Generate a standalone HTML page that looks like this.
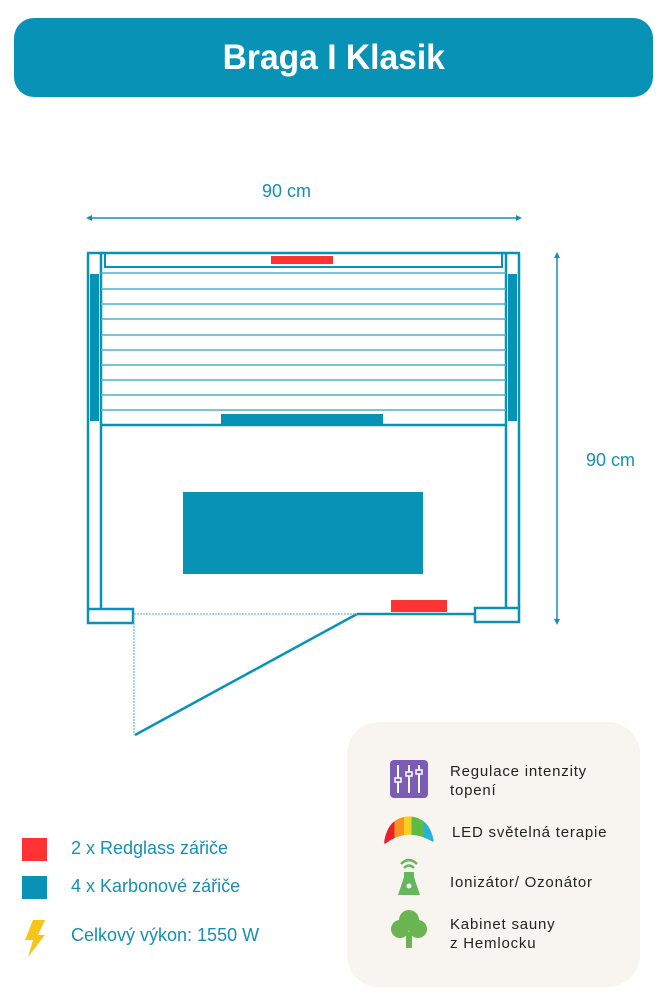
<!DOCTYPE html>
<html><head><meta charset="utf-8"><style>
body{margin:0;width:666px;height:1000px;background:#fff;font-family:"Liberation Sans",sans-serif;position:relative;overflow:hidden}
.hdr{position:absolute;left:14px;top:18px;width:639px;height:79px;background:#0893b6;border-radius:20px;color:#fff;font-weight:bold;font-size:35px;text-align:center;line-height:79px}
.hdr span{display:inline-block;transform:scaleX(0.96)}
.t{position:absolute;color:#168fb2;font-size:18px}
.f{position:absolute;font-size:15px;color:#222;letter-spacing:0.8px;line-height:19px}
</style></head><body>
<div class="hdr"><span>Braga I Klasik</span></div>
<div class="t" style="left:262px;top:181px">90 cm</div>
<div class="t" style="left:586px;top:450px">90 cm</div>
<svg width="666" height="1000" style="position:absolute;left:0;top:0" fill="none">
<g stroke="#168fb2" stroke-width="1.5">
<line x1="89" y1="218" x2="519" y2="218"/>
<line x1="557" y1="255" x2="557" y2="622"/>
</g>
<g fill="#168fb2">
<polygon points="86,218 92,215 92,221"/><polygon points="522,218 516,215 516,221"/>
<polygon points="557,252 554,258 560,258"/><polygon points="557,625 554,619 560,619"/>
</g>
<g stroke="#0893b6" stroke-width="2.5">
<line x1="87" y1="253" x2="520" y2="253"/>
<line x1="88" y1="253" x2="88" y2="608"/>
<line x1="101" y1="253" x2="101" y2="608"/>
<line x1="506" y1="253" x2="506" y2="608"/>
<line x1="519" y1="253" x2="519" y2="608"/>
<rect x="105" y="253" width="397" height="14" stroke-width="2"/>
<line x1="101" y1="425" x2="506" y2="425"/>
<rect x="88" y="609" width="45" height="14"/>
<rect x="475" y="608" width="44" height="14"/>
<line x1="357" y1="614" x2="475" y2="614"/>
<line x1="135" y1="735" x2="357" y2="614"/>
</g>
<g stroke="#4fb0cc" stroke-width="1.5">
<line x1="101" y1="273" x2="506" y2="273"/><line x1="101" y1="289" x2="506" y2="289"/>
<line x1="101" y1="304" x2="506" y2="304"/><line x1="101" y1="319" x2="506" y2="319"/>
<line x1="101" y1="335" x2="506" y2="335"/><line x1="101" y1="350" x2="506" y2="350"/>
<line x1="101" y1="365" x2="506" y2="365"/><line x1="101" y1="380" x2="506" y2="380"/>
<line x1="101" y1="395" x2="506" y2="395"/><line x1="101" y1="410" x2="506" y2="410"/>
</g>
<g stroke="#4fb0cc" stroke-width="1" stroke-dasharray="2,1">
<line x1="134" y1="614" x2="357" y2="614"/><line x1="134" y1="614" x2="134" y2="735"/>
</g>
<g fill="#0893b6">
<rect x="90" y="274" width="9" height="147"/><rect x="508" y="274" width="9" height="147"/>
<rect x="221" y="414" width="162" height="11"/><rect x="183" y="492" width="240" height="82"/>
<rect x="22" y="876" width="25" height="23"/>
</g>
<g fill="#ff3333">
<rect x="271" y="256" width="62" height="8"/><rect x="391" y="600" width="56" height="12"/>
<rect x="22" y="838" width="25" height="23"/>
</g>
<polygon points="33,920 45,920 38,935 45,935 28,957 33,940 25,940" fill="#f5c518"/>
<rect x="347" y="722" width="293" height="265" rx="32" fill="#f8f5f0"/>
<rect x="390" y="760" width="38" height="38" rx="4" fill="#7a5bb5"/>
<g stroke="#fff" stroke-width="2"><line x1="398" y1="765" x2="398" y2="793"/><line x1="409" y1="765" x2="409" y2="793"/><line x1="419" y1="765" x2="419" y2="793"/></g>
<g fill="#7a5bb5" stroke="#fff" stroke-width="1.5"><rect x="395" y="778" width="6" height="4"/><rect x="406" y="772" width="6" height="4"/><rect x="416" y="770" width="6" height="4"/></g>
<defs><linearGradient id="rb"><stop offset="0" stop-color="#e8202a"/><stop offset=".2" stop-color="#e8202a"/><stop offset=".2" stop-color="#f7941d"/><stop offset=".4" stop-color="#f7941d"/><stop offset=".4" stop-color="#f5d020"/><stop offset=".55" stop-color="#f5d020"/><stop offset=".55" stop-color="#5bbd47"/><stop offset=".8" stop-color="#5bbd47"/><stop offset=".8" stop-color="#2ab1d6"/><stop offset="1" stop-color="#2ab1d6"/></linearGradient></defs>
<path d="M385,841 Q389,818 409,817 Q429,818 433,841 Q421,834 409,834 Q397,834 385,843 Z" fill="url(#rb)" stroke="url(#rb)" stroke-width="1.5" stroke-linejoin="round"/>
<g stroke="#62b85a" stroke-width="2.5" fill="none"><path d="M401,864 Q409,856 417,864"/><path d="M404,868 Q409,863 414,868"/></g>
<path d="M404,872 L414,872 L414,877 L420,895 L398,895 L404,877 Z" fill="#62b85a"/><circle cx="409" cy="886" r="2.5" fill="#fff"/>
<circle cx="409" cy="920" r="10" fill="#6ab552"/><circle cx="400" cy="929" r="9" fill="#6ab552"/><circle cx="418" cy="929" r="9" fill="#6ab552"/>
<rect x="406" y="932" width="6" height="16" fill="#6ab552"/>
</svg>
<div class="t" style="left:71px;top:838px">2 x Redglass zářiče</div>
<div class="t" style="left:71px;top:876px">4 x Karbonové zářiče</div>
<div class="t" style="left:71px;top:925px">Celkový výkon: 1550 W</div>
<div class="f" style="left:450px;top:762px">Regulace intenzity<br>topení</div>
<div class="f" style="left:452px;top:823px">LED světelná terapie</div>
<div class="f" style="left:450px;top:873px">Ionizátor/ Ozonátor</div>
<div class="f" style="left:450px;top:915px">Kabinet sauny<br>z Hemlocku</div>
</body></html>
